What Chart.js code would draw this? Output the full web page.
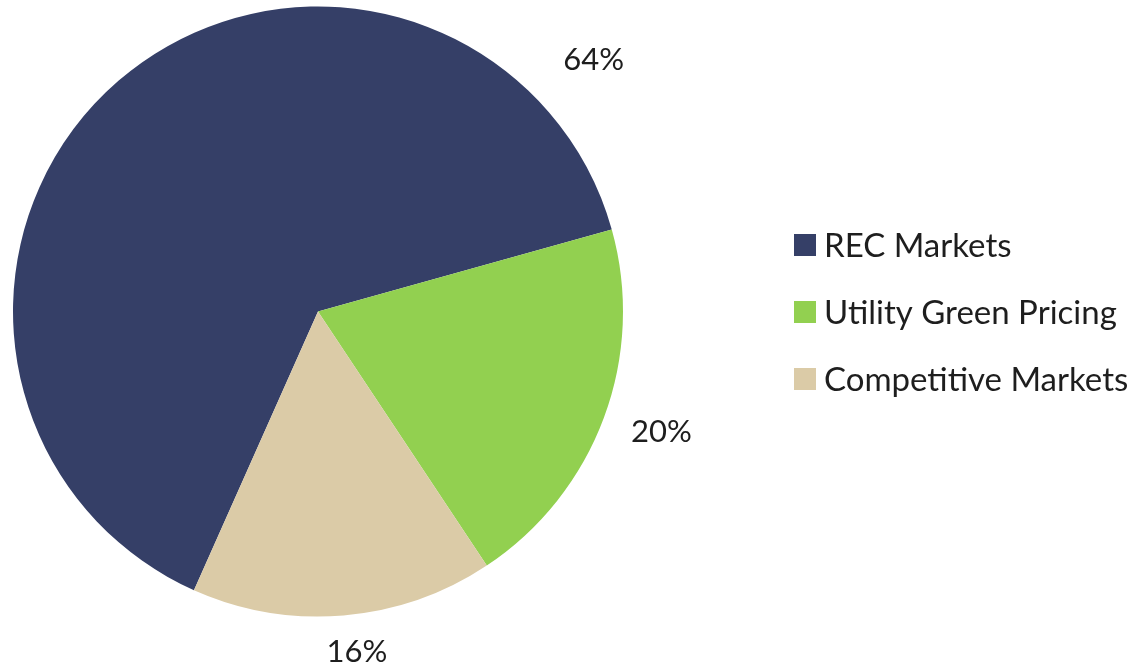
<!DOCTYPE html>
<html>
<head>
<meta charset="utf-8">
<script src="https://cdn.jsdelivr.net/npm/chart.js@4"></script>
<style>
  html, body { margin: 0; padding: 0; background: #ffffff; }
  #wrap { width: 1142px; height: 671px; }
</style>
</head>
<body>
<div id="wrap"><canvas id="pieChart" width="1142" height="671"></canvas></div>
<script>
const categories = ['REC Markets', 'Utility Green Pricing', 'Competitive Markets'];
const shares = [64, 20, 16];
const sliceColors = ['#353f67', '#92d050', '#dbcba7'];

// where each % label sits: fraction along the arc, distance past the rim
const labelSpots = [
    { frac: 0.884, out: 68 },
    { frac: 0.486, out: 59 },
    { frac: 0.47, out: 38 }
];

const FONT = 'Lato, "Open Sans", sans-serif';

const pieLabels = {
    id: 'pieLabels',
    afterDatasetsDraw(chart) {
        const ctx = chart.ctx;
        const arcs = chart.getDatasetMeta(0).data;
        ctx.save();
        ctx.font = '31px ' + FONT;
        ctx.fillStyle = '#1e1e1e';
        ctx.textAlign = 'center';
        ctx.textBaseline = 'middle';
        arcs.forEach((arc, i) => {
            const p = arc.getProps(['x', 'y', 'startAngle', 'endAngle', 'outerRadius'], true);
            const spot = labelSpots[i];
            const a = p.startAngle + (p.endAngle - p.startAngle) * spot.frac;
            const r = p.outerRadius + spot.out;
            ctx.fillText(shares[i] + '%', p.x + Math.cos(a) * r, p.y + Math.sin(a) * r);
        });
        ctx.restore();
    }
};

const sideLegend = {
    id: 'sideLegend',
    afterDraw(chart) {
        const ctx = chart.ctx;
        const left = 794, top = 245, step = 67, box = 22;
        ctx.save();
        ctx.font = '33px ' + FONT;
        ctx.textBaseline = 'middle';
        ctx.textAlign = 'left';
        categories.forEach((name, i) => {
            const y = top + i * step;
            ctx.fillStyle = sliceColors[i];
            ctx.fillRect(left, y - box / 2, box, box);
            ctx.fillStyle = '#1e1e1e';
            ctx.fillText(name, left + 30, y + 1);
        });
        ctx.restore();
    }
};

const ctx = document.getElementById('pieChart').getContext('2d');
new Chart(ctx, {
    type: 'pie',
    data: {
        labels: categories,
        datasets: [{
            data: shares,
            backgroundColor: sliceColors,
            borderWidth: 0
        }]
    },
    options: {
        responsive: false,
        animation: false,
        rotation: 204,
        layout: { padding: { left: 13, top: 6, right: 519, bottom: 54 } },
        plugins: {
            legend: { display: false },
            tooltip: { enabled: false },
            title: { display: false }
        }
    },
    plugins: [pieLabels, sideLegend]
});
</script>
</body>
</html>
